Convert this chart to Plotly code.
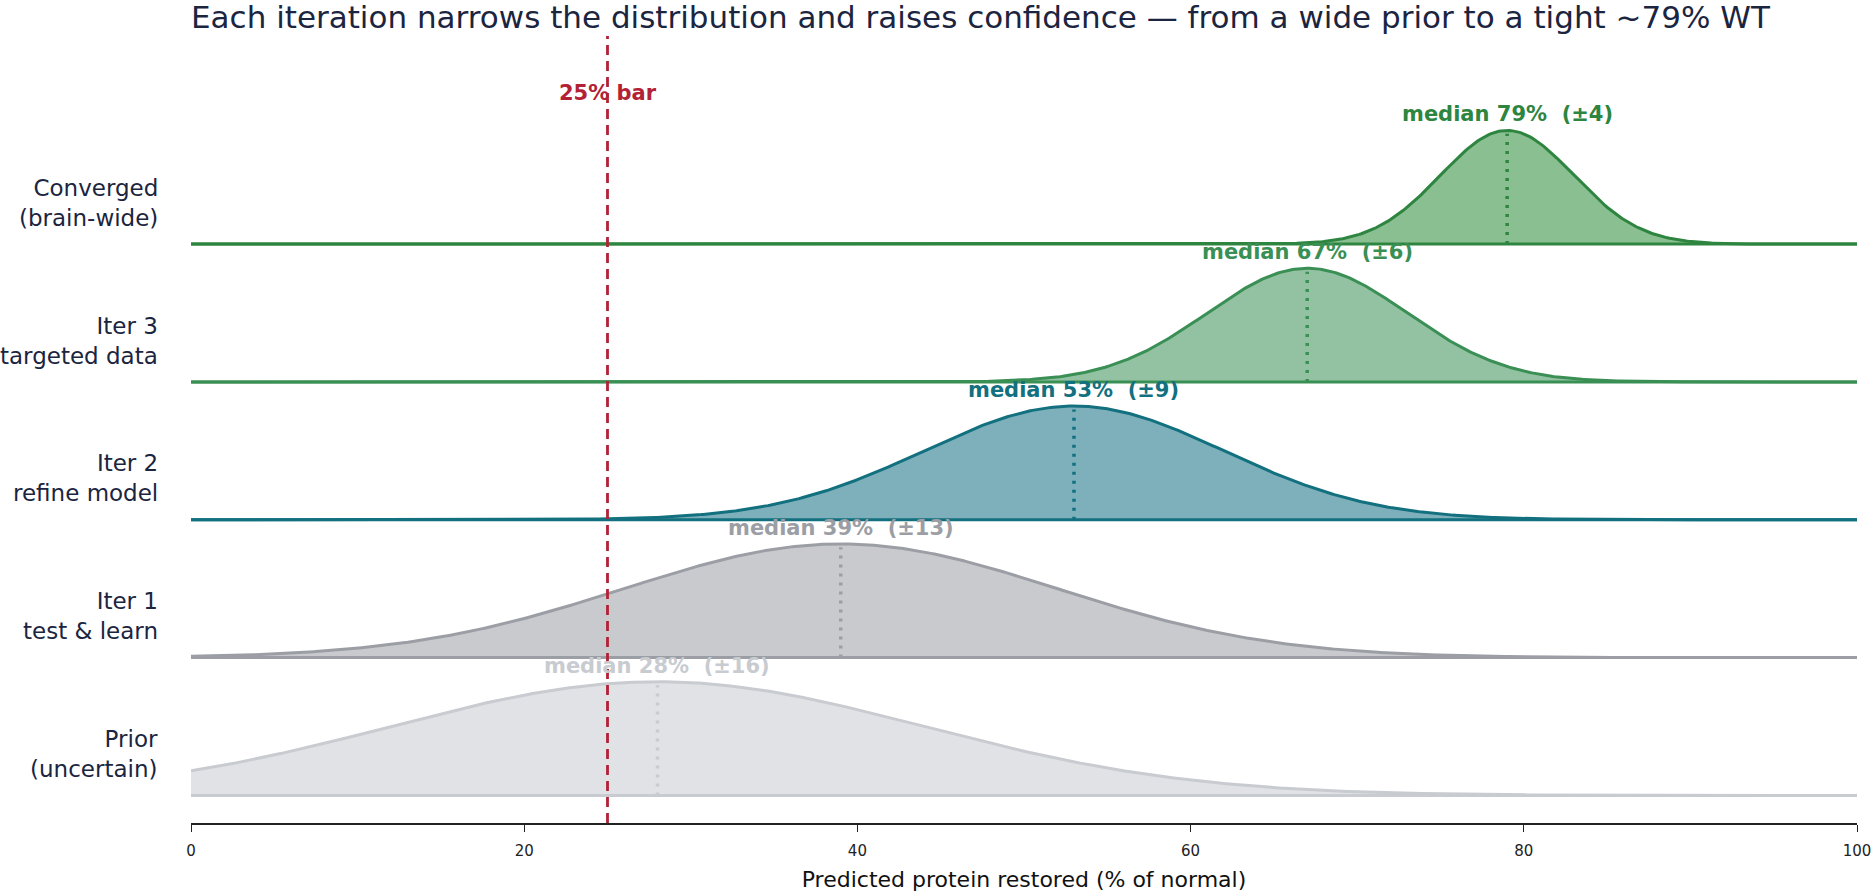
import numpy as np
import plotly.graph_objects as go

# ---- data ----
rows = ["Prior<br>(uncertain)", "Iter 1<br>test & learn", "Iter 2<br>refine model",
        "Iter 3<br>targeted data", "Converged<br>(brain-wide)"]
medians = [28, 39, 53, 67, 79]
spreads = [16, 13, 9, 6, 4]
line_colors = ["#c8cbd0", "#9b9ea4", "#12707f", "#3a8f55", "#2e8540"]
fill_colors = ["rgba(200,203,208,0.55)", "rgba(155,158,164,0.55)", "rgba(18,112,132,0.55)",
               "rgba(58,143,85,0.55)", "rgba(42,139,57,0.55)"]
bar_value = 25
bar_label = "25% bar"
x_ticks = [0, 20, 40, 60, 80, 100]
title_text = "Each iteration narrows the distribution and raises confidence \u2014 from a wide prior to a tight ~79% WT"
x_title = "Predicted protein restored (% of normal)"

AMP = 0.825  # ridge height relative to row spacing
FONT = "DejaVu Sans"
NAVY = "#1b2540"

xs = np.linspace(0, 100, 801)
fig = go.Figure()

# draw from top row down so lower rows sit on top
for i in reversed(range(len(rows))):
    m, s = medians[i], spreads[i]
    dens = np.exp(-0.5 * ((xs - m) / s) ** 2)
    yc = i + AMP * dens
    fig.add_trace(go.Scatter(
        x=np.concatenate([xs, xs[::-1]]),
        y=np.concatenate([yc, np.full_like(xs, i)]),
        fill="toself", fillcolor=fill_colors[i], line=dict(width=0),
        mode="lines", hoverinfo="skip", showlegend=False))
    fig.add_trace(go.Scatter(x=[0, 100], y=[i, i], mode="lines",
                             line=dict(color=line_colors[i], width=3),
                             hoverinfo="skip", showlegend=False))
    fig.add_trace(go.Scatter(x=xs, y=yc, mode="lines",
                             line=dict(color=line_colors[i], width=3),
                             hoverinfo="skip", showlegend=False))
    fig.add_trace(go.Scatter(x=[m, m], y=[i, i + AMP * 0.97], mode="lines",
                             line=dict(color=line_colors[i], width=3.5, dash="3px,6px"),
                             hoverinfo="skip", showlegend=False))
    fig.add_annotation(x=m, y=i + AMP, xref="x", yref="y",
                       text=f"<b>median {m}%\u00a0\u00a0(\u00b1{s})</b>",
                       showarrow=False, yanchor="middle", yshift=16,
                       font=dict(family=FONT, size=21, color=line_colors[i]))
    fig.add_annotation(x=0, y=i + 0.3, xref="paper", yref="y", text=rows[i],
                       showarrow=False, xanchor="right", yanchor="middle", xshift=-31,
                       align="right", font=dict(family=FONT, size=23, color=NAVY))

fig.add_shape(type="line", x0=bar_value, x1=bar_value, xref="x", y0=0, y1=1, yref="paper",
              line=dict(color="#b22234", width=2.8, dash="10px,6px"), layer="above")
fig.add_annotation(x=bar_value, y=5.10, xref="x", yref="y", text=f"<b>{bar_label}</b>",
                   showarrow=False, yanchor="middle",
                   font=dict(family=FONT, size=21, color="#b22234"))

fig.update_layout(
    width=1875, height=892,
    margin=dict(l=191, r=18, t=36, b=69),
    paper_bgcolor="white", plot_bgcolor="white",
    font=dict(family=FONT, color="#222"),
    title=dict(text=title_text, x=191 / 1875, xanchor="left", xref="container",
               y=1 - 17 / 892, yref="container", yanchor="middle",
               font=dict(family=FONT, size=31, color=NAVY)),
    xaxis=dict(range=[0, 100], tickvals=x_ticks, showgrid=False, zeroline=False,
               showline=True, linecolor="#222", linewidth=2, automargin=False,
               ticks="outside", ticklen=7, tickwidth=1.2, tickcolor="#222",
               ticklabelstandoff=6,
               tickfont=dict(family=FONT, size=15, color="#222"),
               title=dict(text=x_title, standoff=14,
                          font=dict(family=FONT, size=22, color="#111"))),
    yaxis=dict(range=[-0.2, 5.51], visible=False, fixedrange=True),
    showlegend=False,
)

fig.write_html("out.html")
